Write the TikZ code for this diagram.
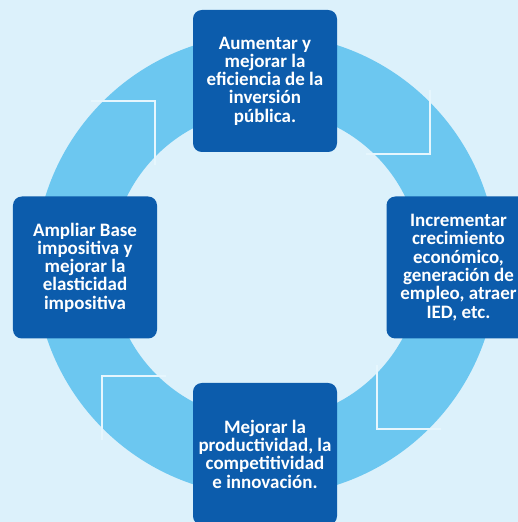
\documentclass[tikz,border=0pt]{standalone}
\usepackage{fontspec}
\setmainfont{Carlito}
\usepackage{tikz}
\usetikzlibrary{positioning}
\definecolor{cyclebg}{RGB}{220,241,251}
\definecolor{ringblue}{RGB}{108,199,240}
\definecolor{stepblue}{RGB}{12,92,172}
\definecolor{cutline}{RGB}{230,246,253}
\tikzset{
  stepbox/.style={
    rectangle, rounded corners=5pt, minimum width=2.88cm, minimum height=2.84cm,
    fill=stepblue, text=white, align=center, inner sep=2pt,
    font=\fontsize{10.8}{10.4}\selectfont\bfseries
  },
  ringcut/.style={draw=cutline, line width=1.7pt}
}

\begin{document}
\begin{tikzpicture}
  % Background
  \fill[cyclebg] (0,0) rectangle (10.36,10.44);
  \useasboundingbox (0,0) rectangle (10.36,10.44);
  \clip (0,0) rectangle (10.36,10.44);
  \coordinate (hub) at (5.32,5.14);

  % Ring
  \fill[ringblue, even odd rule] (hub) circle (4.62cm) (hub) circle (3.1cm);

  % Cuts between the ring segments
  \foreach \ang in {0,-90,-180,-270} {
    \draw[ringcut, shift={(hub)}, rotate=\ang]
      (2.0,2.22) -- (3.28,2.22) -- (3.28,3.5);
  }

  % Steps
  \node[stepbox] (invest) at (5.30,8.82)
    {Aumentar y\\mejorar la\\eficiencia de la\\inversión\\pública.};
  \node[stepbox] (growth) at (9.17,5.09)
    {Incrementar\\crecimiento\\económico,\\generación de\\empleo, atraer\\IED, etc.};
  \node[stepbox] (product) at (5.30,1.36)
    {Mejorar la\\productividad, la\\competitividad\\e innovación.};
  \node[stepbox] (taxbase) at (1.70,5.09)
    {Ampliar Base\\impositiva y\\mejorar la\\elasticidad\\impositiva};
\end{tikzpicture}
\end{document}
